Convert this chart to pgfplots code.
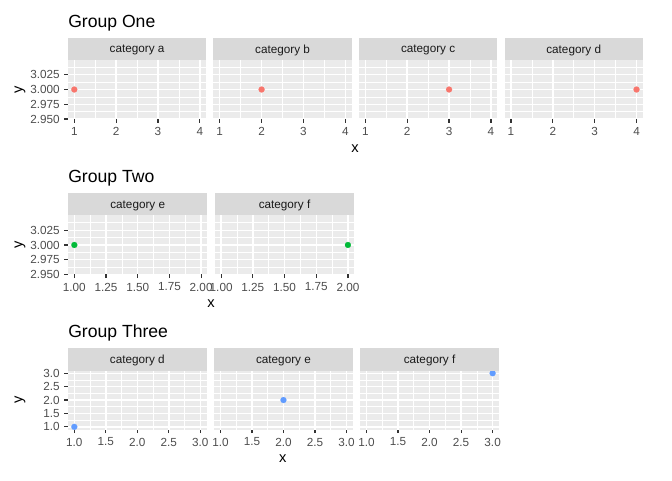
\documentclass[border=0pt]{standalone}
\usepackage{fontspec}
\setmainfont{Liberation Sans}
\usepackage{pgfplots}
\pgfplotsset{compat=1.18}
\definecolor{panelbg}{HTML}{EBEBEB}
\definecolor{stripbg}{HTML}{D9D9D9}
\definecolor{gray30}{HTML}{4D4D4D}
\definecolor{gray20}{HTML}{333333}
\definecolor{gray10}{HTML}{1A1A1A}
\definecolor{gred}{HTML}{F8766D}
\definecolor{ggreen}{HTML}{00BA38}
\definecolor{gblue}{HTML}{619CFF}
\pgfplotsset{
  panel/.style={
    scale only axis, height=44.25pt, anchor=north west,
    axis background/.style={fill=panelbg},
    axis line style={draw=none},
    grid=both,
    major grid style={white, line width=1.07pt},
    minor grid style={white, line width=0.53pt},
    tick align=outside, major tick length=2.75pt, minor tick length=0pt,
    tick style={gray20, line width=0.9pt},
    tick pos=left,
    ticklabel style={font=\fontsize{8.8}{10}\selectfont, text=gray30},
    /pgf/number format/assume math mode=true,
  },
  g1/.style={panel, width=103.6pt, xmin=0.85, xmax=4.15, ymin=2.95, ymax=3.05,
    xtick={1,2,3,4}, minor xtick={1.5,2.5,3.5},
    ytick={2.95,2.975,3,3.025}, minor ytick={2.9625,2.9875,3.0125,3.0375},
    yticklabels={2.950,2.975,3.000,3.025}},
  g2/.style={panel, width=104.6pt, xmin=0.95, xmax=2.05, ymin=2.95, ymax=3.05,
    xtick={1,1.25,1.5,1.75,2}, xticklabels={1.00,1.25,1.50,1.75,2.00},
    minor xtick={1.125,1.375,1.625,1.875},
    ytick={2.95,2.975,3,3.025}, minor ytick={2.9625,2.9875,3.0125,3.0375},
    yticklabels={2.950,2.975,3.000,3.025}},
  g3/.style={panel, width=104pt, xmin=0.9, xmax=3.1, ymin=0.9, ymax=3.1,
    xtick={1,1.5,2,2.5,3}, xticklabels={1.0,1.5,2.0,2.5,3.0},
    minor xtick={1.25,1.75,2.25,2.75},
    ytick={1,1.5,2,2.5,3}, minor ytick={1.25,1.75,2.25,2.75},
    yticklabels={1.0,1.5,2.0,2.5,3.0}},
  inner/.style={yticklabels={}, ytick style={draw=none}},
  pt/.style={only marks, color=#1, mark=*, mark size=2.25pt, mark options={draw=#1, fill=#1, line width=0.1pt}},
}
\newcommand\strip[2]{%
  \fill[stripbg] (#1.north west) rectangle ([yshift=16.8pt]#1.north east);
  \node[font=\fontsize{8.8}{10}\selectfont, text=gray10] at ([yshift=7.2pt]#1.north) {#2};}
\tikzset{ttl/.style={anchor=base west, inner sep=0pt, font=\fontsize{13.2}{15}\selectfont},
  axt/.style={inner sep=0pt, font=\fontsize{11}{13}\selectfont}}
\begin{document}
\begin{tikzpicture}
\path (0pt,0pt) rectangle (504pt,-360pt);
% ---------- Group One
\node[ttl] at (51pt,-20.5pt) {Group One};
\begin{axis}[g1, name=a1, at={(51pt,-45pt)}]
\addplot[pt=gred] coordinates {(1,3)};
\end{axis}
\begin{axis}[g1, inner, name=a2, at={(160.1pt,-45pt)}]
\addplot[pt=gred] coordinates {(2,3)};
\end{axis}
\begin{axis}[g1, inner, name=a3, at={(269.3pt,-45pt)}]
\addplot[pt=gred] coordinates {(3,3)};
\end{axis}
\begin{axis}[g1, inner, name=a4, at={(378.5pt,-45pt)}]
\addplot[pt=gred] coordinates {(4,3)};
\end{axis}
\strip{a1}{category a}\strip{a2}{category b}\strip{a3}{category c}\strip{a4}{category d}
\node[axt, rotate=90] at (15pt,-67.1pt) {y};
\node[axt] at (266.3pt,-111.5pt) {x};
% ---------- Group Two
\node[ttl] at (51pt,-137pt) {Group Two};
\begin{axis}[g2, name=b1, at={(51pt,-161.6pt)}]
\addplot[pt=ggreen] coordinates {(1,3)};
\end{axis}
\begin{axis}[g2, inner, name=b2, at={(161.1pt,-161.6pt)}]
\addplot[pt=ggreen] coordinates {(2,3)};
\end{axis}
\strip{b1}{category e}\strip{b2}{category f}
\node[axt, rotate=90] at (15pt,-183.7pt) {y};
\node[axt] at (158.2pt,-228pt) {x};
% ---------- Group Three
\node[ttl] at (51pt,-253pt) {Group Three};
\begin{axis}[g3, name=c1, at={(51pt,-277.9pt)}]
\addplot[pt=gblue] coordinates {(1,1)};
\end{axis}
\begin{axis}[g3, inner, name=c2, at={(160.6pt,-277.9pt)}]
\addplot[pt=gblue] coordinates {(2,2)};
\end{axis}
\begin{axis}[g3, inner, name=c3, at={(270.2pt,-277.9pt)}]
\addplot[pt=gblue] coordinates {(3,3)};
\end{axis}
\strip{c1}{category d}\strip{c2}{category e}\strip{c3}{category f}
\node[axt, rotate=90] at (15pt,-300pt) {y};
\node[axt] at (212pt,-343.7pt) {x};
\end{tikzpicture}
\end{document}
